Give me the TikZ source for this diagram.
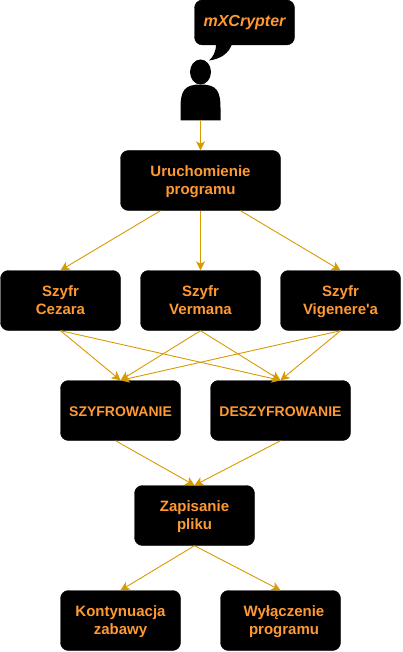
\documentclass[tikz,border=0pt]{standalone}
\usepackage{fontspec}
\setmainfont{Liberation Sans}
\usetikzlibrary{calc,arrows.meta,shapes.geometric}
\definecolor{txt}{HTML}{FF9933}
\definecolor{lnk}{HTML}{D79B00}
\newcommand{\twoline}[2]{\raisebox{-5pt}[0pt][0pt]{\begin{tabular}{@{}c@{}}#1\\#2\end{tabular}}}
\tikzset{
  plate/.style={fill=black,draw=black,rounded corners=8pt,text=txt,inner sep=0pt,align=center},
  box/.style={plate,minimum height=60pt,font=\fontsize{15}{18.5}\selectfont\bfseries},
  upper/.style={font=\fontsize{14}{18}\selectfont\bfseries,
    execute at begin node={\rule{0pt}{14.5pt}},
    execute at end node={\rule[-3.5pt]{0pt}{0pt}}},
  callout/.style={plate,minimum width=100pt,minimum height=45pt,font=\fontsize{16}{18}\selectfont\bfseries\itshape},
  link/.style={draw=lnk,line width=0.9pt,-{Stealth[length=9pt,width=9pt,inset=2.5pt]}},
  silhouette/.style={fill=black,draw=none},
}
\begin{document}
\begin{tikzpicture}[x=1pt,y=-1pt]
\useasboundingbox (0,0) rectangle (402,652);
% callout
\fill[black] (216,44) .. controls (216,52) and (213,57) .. (209,60.5) .. controls (221,59) and (229,53) .. (232,44) -- cycle;
\node[callout] (say) at (244.5,22.5) {mXCrypter};
% person
\node[silhouette,shape=ellipse,minimum width=21pt,minimum height=25pt,inner sep=0pt] (head) at (200.5,72) {};
\fill[silhouette] (180.5,120.5) -- (180.5,108) .. controls (180.5,90) and (185,84.5) .. (200.5,84.5) .. controls (216,84.5) and (220.5,90) .. (220.5,108) -- (220.5,120.5) -- cycle;
\coordinate (foot) at (200.5,120.5);
% boxes
\node[box,minimum width=160pt] (start) at (200.5,180.5) {\twoline{Uruchomienie}{programu}};
\node[box,minimum width=120pt] (cez) at (60.5,300.5) {\twoline{Szyfr}{Cezara}};
\node[box,minimum width=120pt] (ver) at (200.5,300.5) {\twoline{Szyfr}{Vermana}};
\node[box,minimum width=120pt] (vig) at (340.5,300.5) {\twoline{Szyfr}{Vigenere\textquotesingle a}};
\node[box,upper,minimum width=120pt] (enc) at (120.5,410.5) {SZYFROWANIE};
\node[box,upper,minimum width=140pt] (dec) at (280.5,410.5) {DESZYFROWANIE};
\node[box,minimum width=120pt] (save) at (194.5,515.5) {\twoline{Zapisanie}{pliku}};
\node[box,minimum width=120pt] (cont) at (120.5,620.5) {\twoline{Kontynuacja}{zabawy}};
\node[box,minimum width=120pt] (quit) at (280.5,620.5) {\hspace*{7pt}\twoline{Wyłączenie}{programu}};
% connectors
\draw[link] (foot) -- (start.north);
\draw[link] ($(start.south)+(-40,0)$) -- (cez.north);
\draw[link] (start.south) -- (ver.north);
\draw[link] ($(start.south)+(40,0)$) -- (vig.north);
\draw[link] (cez.south) -- (enc.north);
\draw[link] (cez.south) -- (dec.north);
\draw[link] (ver.south) -- (enc.north);
\draw[link] (ver.south) -- (dec.north);
\draw[link] (vig.south) -- (enc.north);
\draw[link] (vig.south) -- (dec.north);
\draw[link] ($(enc.south)+(-5,0)$) -- (save.north);
\draw[link] (dec.south) -- (save.north);
\draw[link] (save.south) -- (cont.north);
\draw[link] (save.south) -- (quit.north);
\end{tikzpicture}
\end{document}
